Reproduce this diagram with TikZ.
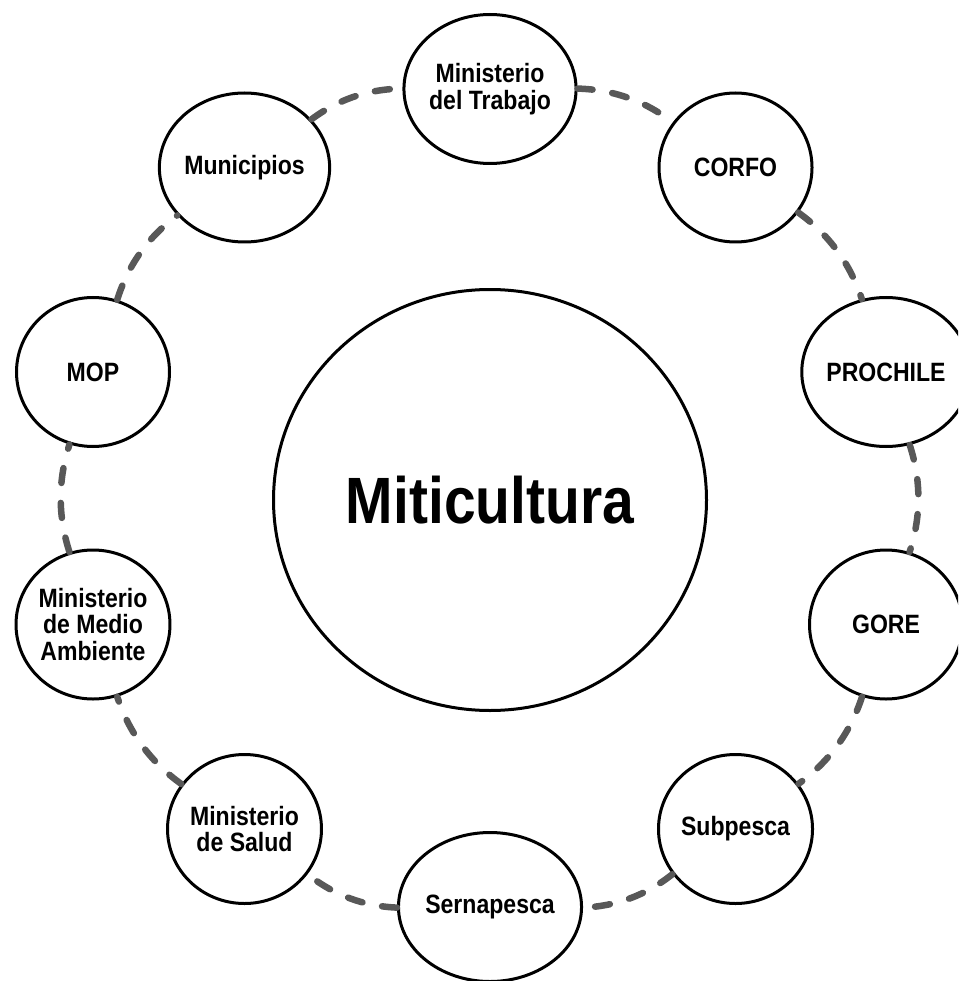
\documentclass[tikz,border=0pt]{standalone}
\usepackage{fontspec}
\newfontfamily\labfont{Liberation Sans}[FakeStretch=0.87]
\usetikzlibrary{shapes.geometric}
\definecolor{linkgray}{HTML}{585858}
\begin{document}
\begin{tikzpicture}[x=1pt,y=1pt,
  org/.style={ellipse, draw=black, line width=3pt, fill=white,
    minimum width=153pt, minimum height=149pt, inner sep=0pt, align=center,
    text=black, font=\labfont\bfseries\fontsize{26.5}{26.5}\selectfont},
  hub/.style={ellipse, draw=black, line width=3pt, fill=white,
    minimum width=433pt, minimum height=421pt, inner sep=0pt,
    text=black, font=\labfont\bfseries\fontsize{65.5}{70}\selectfont},
  link/.style={draw=linkgray, line width=6.5pt, line cap=round,
    dash pattern=on 15pt off 20pt, bend left=18, looseness=0.9}]
\useasboundingbox (0,0) rectangle (958,-981);
\clip (0,0) rectangle (958,-981);
\fill[white] (0,0) rectangle (958,-981);

\node[hub] (hub) at (490,-500) {Miticultura};

\node[org] (trab)     at (490,-89)      {Ministerio\\del Trabajo};
\node[org] (corfo)    at (735.5,-167.5) {CORFO};
\node[org] (prochile) at (886,-372)     {PROCHILE};
\node[org] (gore)     at (886,-624.5)   {GORE};
\node[org] (subpesca) at (735.5,-829)   {Subpesca};
\node[org] (serna)    at (490,-907)     {Sernapesca};
\node[org] (salud)    at (244.5,-829)   {Ministerio\\de Salud};
\node[org] (medio)    at (93,-624.5)    {Ministerio\\de Medio\\Ambiente};
\node[org] (mop)      at (93,-372)      {MOP};
\node[org] (muni)     at (244.5,-167.5) {Municipios};

\draw[link] (trab) to (corfo);
\draw[link] (corfo) to (prochile);
\draw[link] (prochile) to (gore);
\draw[link] (gore) to (subpesca);
\draw[link] (subpesca) to (serna);
\draw[link] (serna) to (salud);
\draw[link] (salud) to (medio);
\draw[link] (medio) to (mop);
\draw[link] (mop) to (muni);
\draw[link] (muni) to (trab);
\end{tikzpicture}
\end{document}
